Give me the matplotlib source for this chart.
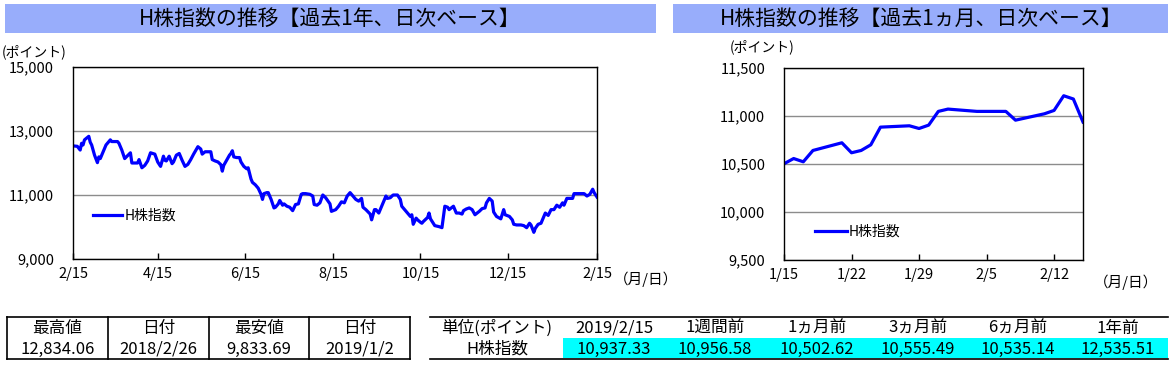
import numpy as np
import matplotlib
matplotlib.use("Agg")
from matplotlib import pyplot as plt
from matplotlib.patches import Rectangle

plt.rcParams['font.family'] = ['Noto Sans CJK JP', 'DejaVu Sans']

# 過去1年 (2018/2/15 からの日数, 値)
year_days = [0, 3, 5, 6, 7, 8, 11, 12, 13, 14, 15, 17, 18, 19, 21, 23, 26, 27, 31, 32,
             34, 36, 39, 40, 41, 45, 46, 48, 50, 52, 54, 57, 59, 61, 63, 64, 65, 67, 69, 70,
             72, 74, 76, 78, 80, 82, 84, 87, 89, 90, 92, 96, 97, 99, 101, 103, 104, 105, 107, 109,
             110, 111, 112, 114, 116, 117, 119, 121, 122, 124, 125, 127, 129, 131, 132, 133, 135, 136, 138, 140,
             141, 143, 144, 146, 147, 149, 151, 153, 155, 157, 159, 160, 162, 165, 167, 168, 170, 172, 174, 176,
             178, 179, 180, 183, 185, 187, 189, 191, 193, 194, 197, 199, 201, 202, 204, 207, 208, 210, 211, 213,
             215, 218, 219, 221, 223, 226, 228, 229, 232, 233, 235, 236, 237, 239, 240, 242, 243, 244, 247, 248,
             249, 251, 252, 255, 257, 259, 261, 262, 265, 267, 269, 271, 272, 274, 276, 278, 280, 283, 285, 287,
             288, 290, 292, 293, 295, 298, 300, 301, 304, 306, 307, 309, 312, 314, 316, 318, 319, 321, 322, 324,
             326, 328, 329, 331, 333, 335, 337, 339, 341, 342, 344, 348, 349, 352, 356, 358, 360, 362, 363, 365]
year_vals = [12535, 12521, 12404, 12617, 12564, 12723, 12834, 12650, 12564, 12404, 12245, 12011, 12191, 12138, 12351, 12564, 12723, 12670, 12670, 12617,
             12404, 12138, 12277, 12319, 12000, 12000, 12106, 11851, 11926, 12064, 12319, 12277, 12032, 11894, 12213, 12085, 12064, 12213, 11979, 12032,
             12245, 12298, 12085, 11894, 11957, 12106, 12277, 12510, 12436, 12277, 12351, 12351, 12106, 12064, 12032, 11947, 11745, 11926, 12085, 12245,
             12298, 12383, 12191, 12170, 12170, 12032, 11894, 11820, 11851, 11500, 11394, 11319, 11213, 11021, 10862, 11043, 11074, 11074, 10862, 10596,
             10617, 10723, 10830, 10681, 10723, 10649, 10617, 10511, 10702, 10723, 11021, 11043, 11043, 11021, 10968, 10702, 10681, 10755, 11000, 10915,
             10787, 10723, 10489, 10543, 10649, 10787, 10755, 10968, 11074, 11021, 10862, 10809, 10894, 10617, 10543, 10404, 10224, 10543, 10543, 10436,
             10649, 10968, 10894, 10915, 11000, 11000, 10862, 10649, 10489, 10436, 10330, 10383, 10085, 10277, 10224, 10149, 10117, 10170, 10298, 10436,
             10255, 10117, 10043, 10011, 9979, 10649, 10617, 10543, 10649, 10436, 10436, 10404, 10511, 10564, 10596, 10543, 10383, 10489, 10575, 10596,
             10755, 10894, 10809, 10468, 10330, 10255, 10543, 10383, 10330, 10223, 10085, 10064, 10064, 10043, 9979, 10117, 10064, 9834, 9957, 10085,
             10117, 10330, 10436, 10362, 10543, 10543, 10681, 10617, 10755, 10681, 10894, 10894, 11043, 11043, 11043, 10968, 11021, 11181, 11074, 10937]

# 過去1ヵ月
month_dates = ['2019-01-15', '2019-01-16', '2019-01-17', '2019-01-18', '2019-01-21', '2019-01-22',
               '2019-01-23', '2019-01-24', '2019-01-25', '2019-01-28', '2019-01-29', '2019-01-30',
               '2019-01-31', '2019-02-01', '2019-02-04', '2019-02-05', '2019-02-06', '2019-02-07',
               '2019-02-08', '2019-02-11', '2019-02-12', '2019-02-13', '2019-02-14', '2019-02-15']
month_vals = [10502.62, 10557, 10523, 10641, 10721, 10617,
              10641, 10700, 10884, 10898, 10870, 10905,
              11048, 11072, 11048, 11048, 11048, 11048,
              10956.58, 11023, 11058, 11211, 11177, 10937.33]

year_ticks = ['2018-02-15', '2018-04-15', '2018-06-15', '2018-08-15', '2018-10-15', '2018-12-15', '2019-02-15']
year_ticklabels = ['2/15', '4/15', '6/15', '8/15', '10/15', '12/15', '2/15']
month_ticks = ['2019-01-15', '2019-01-22', '2019-01-29', '2019-02-05', '2019-02-12']
month_ticklabels = ['1/15', '1/22', '1/29', '2/5', '2/12']

# 表
hl_header = ['最高値', '日付', '最安値', '日付']
hl_row = ['12,834.06', '2018/2/26', '9,833.69', '2019/1/2']
cmp_header = ['単位(ポイント)', '2019/2/15', '1週間前', '1ヵ月前', '3ヵ月前', '6ヵ月前', '1年前']
cmp_row = ['H株指数', '10,937.33', '10,956.58', '10,502.62', '10,555.49', '10,535.14', '12,535.51']

band_color = '#98ADFB'
line_color = '#0000FF'
grid_color = '#8C8C8C'

fig = plt.figure(figsize=(11.74, 3.65), dpi=100)

# 背景用(ピクセル座標)
ov = fig.add_axes([0, 0, 1, 1])
ov.set_xlim(0, 1174)
ov.set_ylim(365, 0)
ov.axis('off')

ov.add_patch(Rectangle((5, 4), 651, 29, color=band_color, lw=0))
ov.add_patch(Rectangle((673, 4), 495, 29, color=band_color, lw=0))
ov.text(330, 18.5, 'H株指数の推移【過去1年、日次ベース】', ha='center', va='center', fontsize=15)
ov.text(921, 18.5, 'H株指数の推移【過去1ヵ月、日次ベース】', ha='center', va='center', fontsize=15)
ov.text(34, 52, '(ポイント)', ha='center', va='center', fontsize=10)
ov.text(762, 47, '(ポイント)', ha='center', va='center', fontsize=10)
ov.text(646, 279, '（月/日）', ha='center', va='center', fontsize=10.5)
ov.text(1126, 282, '（月/日）', ha='center', va='center', fontsize=10.5)

# 左の表
col_edges = [7, 108, 209, 309, 410]
ov.plot([7, 410], [317, 317], color='black', lw=1.2)
ov.plot([7, 410], [359, 359], color='black', lw=1.2)
for xe in col_edges:
    ov.plot([xe, xe], [317, 359], color='black', lw=1.2)
for i in range(4):
    xc = (col_edges[i] + col_edges[i + 1]) / 2
    ov.text(xc, 328, hl_header[i], ha='center', va='center', fontsize=12)
    ov.text(xc, 349, hl_row[i], ha='center', va='center', fontsize=12)

# 右の表
cmp_centers = [497, 614, 715, 817, 918, 1018, 1118]
ov.add_patch(Rectangle((563, 338), 605, 20, color='#00FFFF', lw=0))
ov.plot([430, 1168], [317, 317], color='black', lw=1.2)
ov.plot([430, 1168], [359, 359], color='black', lw=1.2)
for xc, h, v in zip(cmp_centers, cmp_header, cmp_row):
    ov.text(xc, 328, h, ha='center', va='center', fontsize=12)
    ov.text(xc, 349, v, ha='center', va='center', fontsize=12)


def style_axes(ax):
    for s in ax.spines.values():
        s.set_linewidth(1.0)
        s.set_color('black')
    ax.grid(axis='y', color=grid_color, lw=1.0)
    ax.set_axisbelow(True)
    ax.tick_params(axis='y', length=0, pad=13.5, labelsize=10.5)
    ax.tick_params(axis='x', direction='in', length=4.5, width=1, pad=6, labelsize=10.5)


# 過去1年
ax1 = fig.add_axes([73 / 1174, 1 - 259 / 365, 524 / 1174, 192 / 365])
x1 = np.datetime64('2018-02-15') + np.array(year_days).astype('timedelta64[D]')
ax1.plot(x1, year_vals, color=line_color, lw=2.3, label='H株指数')
ax1.set_xlim(np.datetime64('2018-02-15'), np.datetime64('2019-02-15'))
ax1.set_ylim(9000, 15000)
ax1.set_yticks([9000, 11000, 13000, 15000])
ax1.set_yticklabels(['{:,}'.format(v) for v in [9000, 11000, 13000, 15000]])
ax1.set_xticks(np.array(year_ticks, dtype='datetime64[D]'))
ax1.set_xticklabels(year_ticklabels)
style_axes(ax1)
ax1.legend(loc='center left', bbox_to_anchor=(0.038, 0.224), frameon=False, fontsize=10,
           handlelength=2.1, handletextpad=0.2, borderpad=0, borderaxespad=0)

# 過去1ヵ月
ax2 = fig.add_axes([784 / 1174, 1 - 260 / 365, 299 / 1174, 192 / 365])
x2 = np.array(month_dates, dtype='datetime64[D]')
ax2.plot(x2, month_vals, color=line_color, lw=2.3, label='H株指数')
ax2.set_xlim(np.datetime64('2019-01-15'), np.datetime64('2019-02-15'))
ax2.set_ylim(9500, 11500)
yt2 = [9500, 10000, 10500, 11000, 11500]
ax2.set_yticks(yt2)
ax2.set_yticklabels(['{:,}'.format(v) for v in yt2])
ax2.set_xticks(np.array(month_ticks, dtype='datetime64[D]'))
ax2.set_xticklabels(month_ticklabels)
style_axes(ax2)
ax2.legend(loc='center left', bbox_to_anchor=(0.104, 0.146), frameon=False, fontsize=10,
           handlelength=2.3, handletextpad=0.1, borderpad=0, borderaxespad=0)

fig.savefig('out.png', dpi=100)
